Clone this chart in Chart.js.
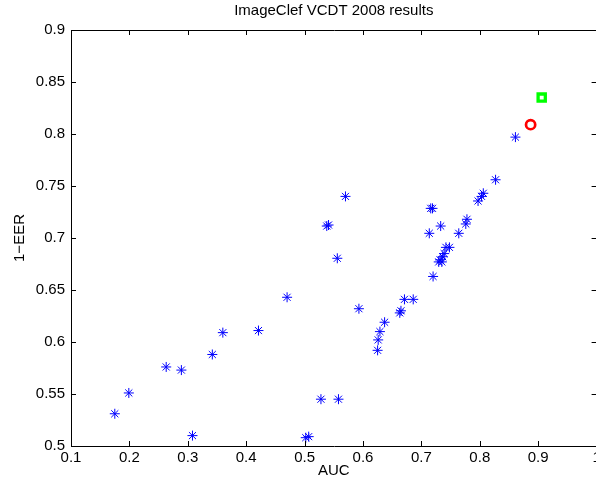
<!DOCTYPE html>
<html>
<head>
<meta charset="utf-8">
<script src="https://cdn.jsdelivr.net/npm/chart.js@4/dist/chart.umd.min.js"></script>
<style>
  html, body { margin: 0; padding: 0; background: #fff; overflow: hidden; }
  #wrap { position: absolute; left: 0; top: 0; width: 605px; height: 487px; }
</style>
</head>
<body>
<div id="wrap"><canvas id="resultsChart" width="605" height="487"></canvas></div>
<script>
// Runs of the VCDT 2008 task (AUC vs 1-EER)
const runAuc = [0.175, 0.199, 0.263, 0.289, 0.308, 0.342, 0.360, 0.421, 0.470, 0.502,
                0.507, 0.528, 0.558, 0.538, 0.541, 0.556, 0.570, 0.593, 0.625, 0.626,
                0.629, 0.637, 0.663, 0.665, 0.671, 0.686, 0.7135, 0.716, 0.719, 0.720,
                0.7297, 0.732, 0.735, 0.7365, 0.739, 0.742, 0.748, 0.733, 0.764, 0.776,
                0.778, 0.797, 0.803, 0.806, 0.827, 0.861];
const runEer = [0.531, 0.551, 0.576, 0.573, 0.510, 0.588, 0.609, 0.611, 0.643, 0.508,
                0.509, 0.545, 0.545, 0.7115, 0.7125, 0.6805, 0.740, 0.632, 0.592, 0.602,
                0.610, 0.619, 0.628, 0.630, 0.641, 0.641, 0.7045, 0.7285, 0.7285, 0.663,
                0.677, 0.679, 0.677, 0.682, 0.685, 0.691, 0.691, 0.7115, 0.7045, 0.7135,
                0.718, 0.7356, 0.740, 0.743, 0.756, 0.797];
// highlighted runs
const circleRun = [0.887, 0.809];
const squareRun = [0.906, 0.835];

const xTicks = [0.1, 0.2, 0.3, 0.4, 0.5, 0.6, 0.7, 0.8, 0.9, 1];
const yTicks = [0.5, 0.55, 0.6, 0.65, 0.7, 0.75, 0.8, 0.85, 0.9];

const FONT = { family: '"Liberation Sans", Arial, Helvetica, sans-serif', size: 15 };

// matlab style box with ticks pointing inwards
const boxPlugin = {
    id: 'matlabBox',
    afterDraw(chart) {
        const { ctx, chartArea: a, scales } = chart;
        const len = 5;
        ctx.save();
        ctx.strokeStyle = '#000';
        ctx.lineWidth = 1;
        ctx.beginPath();
        ctx.rect(Math.round(a.left) + 0.5, Math.round(a.top) + 0.5,
                 Math.round(a.right - a.left), Math.round(a.bottom - a.top));
        scales.x.ticks.forEach(t => {
            const px = Math.round(scales.x.getPixelForValue(t.value)) + 0.5;
            ctx.moveTo(px, a.bottom); ctx.lineTo(px, a.bottom - len);
            ctx.moveTo(px, a.top); ctx.lineTo(px, a.top + len);
        });
        scales.y.ticks.forEach(t => {
            const py = Math.round(scales.y.getPixelForValue(t.value)) + 0.5;
            ctx.moveTo(a.left, py); ctx.lineTo(a.left + len, py);
            ctx.moveTo(a.right, py); ctx.lineTo(a.right - len, py);
        });
        ctx.stroke();
        ctx.restore();
    }
};

new Chart(document.getElementById('resultsChart'), {
    type: 'scatter',
    data: {
        datasets: [
            {
                data: runAuc.map((x, i) => ({ x: x, y: runEer[i] })),
                pointStyle: 'star',
                radius: 5,
                borderColor: '#0000ff',
                backgroundColor: '#0000ff',
                borderWidth: 1
            },
            {
                data: [{ x: circleRun[0], y: circleRun[1] }],
                pointStyle: 'circle',
                radius: 4.6,
                borderColor: '#ff0000',
                backgroundColor: 'rgba(255,255,255,0)',
                borderWidth: 2.7
            },
            {
                data: [{ x: squareRun[0], y: squareRun[1] }],
                pointStyle: 'rect',
                radius: 5.1,
                borderColor: '#00ff00',
                backgroundColor: 'rgba(255,255,255,0)',
                borderWidth: 3.3
            }
        ]
    },
    options: {
        responsive: false,
        animation: false,
        layout: { padding: { left: 0, right: 5, top: 0, bottom: 0 } },
        plugins: {
            legend: { display: false },
            tooltip: { enabled: false },
            title: {
                display: true,
                text: 'ImageClef VCDT 2008 results',
                color: '#000',
                fullSize: false,
                font: { ...FONT, weight: 'normal' },
                padding: { top: 2, bottom: 10 }
            }
        },
        scales: {
            x: {
                type: 'linear',
                min: 0.1,
                max: 1,
                afterBuildTicks: s => { s.ticks = xTicks.map(v => ({ value: v })); },
                afterFit: s => { s.height = 41; },
                grid: { display: false, drawTicks: false },
                border: { display: false },
                ticks: {
                    color: '#000', font: FONT, padding: 3, maxRotation: 0, autoSkip: false,
                    callback: v => String(+v.toFixed(2))
                },
                title: { display: true, text: 'AUC', color: '#000', font: FONT, padding: { top: 0, bottom: 7 } }
            },
            y: {
                type: 'linear',
                min: 0.5,
                max: 0.9,
                afterBuildTicks: s => { s.ticks = yTicks.map(v => ({ value: v })); },
                afterFit: s => { s.width = 71; },
                grid: { display: false, drawTicks: false },
                border: { display: false },
                ticks: {
                    color: '#000', font: FONT, padding: 6, autoSkip: false,
                    callback: v => String(+v.toFixed(2))
                },
                title: { display: true, text: '1−EER', color: '#000', font: FONT, padding: { top: 11, bottom: 0 } }
            }
        }
    },
    plugins: [boxPlugin]
});
</script>
</body>
</html>
